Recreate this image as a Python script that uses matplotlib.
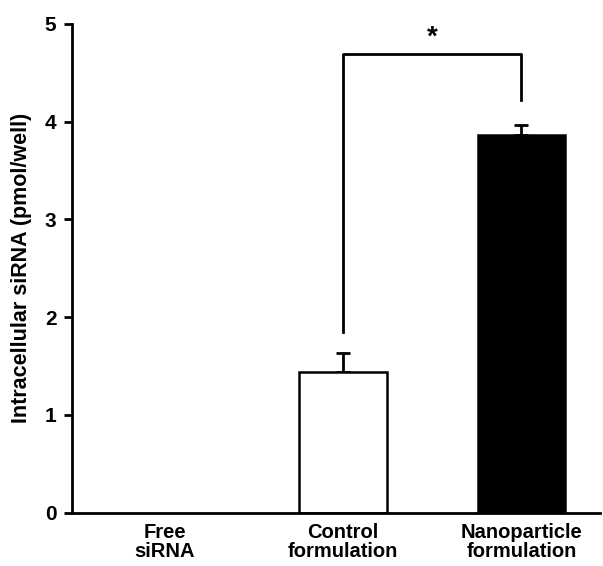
import matplotlib.pyplot as plt
import numpy as np

plt.rcParams['font.family'] = ['Liberation Sans', 'DejaVu Sans']
plt.rcParams['font.weight'] = 'bold'

categories = ["Free\nsiRNA", "Control\nformulation", "Nanoparticle\nformulation"]
values = [0.0, 1.44, 3.86]
errors = [0.0, 0.19, 0.10]
colors = ["white", "white", "black"]

# significance bracket between control and nanoparticle
bracket_left = 1.85
bracket_right = 4.22
bracket_top = 4.69

fig = plt.figure(figsize=(6.03, 5.66), dpi=100)
ax = fig.add_axes([0.119, 0.094, 0.876, 0.864])

x = np.arange(len(categories))
lw = [1.8 if v > 0 else 0 for v in values]
ax.bar(x, values, width=0.49, color=colors, edgecolor="black", linewidth=lw, zorder=2)
ax.errorbar(x[1:], values[1:], yerr=[np.zeros(2), errors[1:]], fmt="none",
            ecolor="black", elinewidth=2, capsize=4.7, capthick=2, zorder=1)

ax.plot([1, 1, 2, 2], [bracket_left, bracket_top, bracket_top, bracket_right],
        color="black", linewidth=2)
ax.text(1.5, 4.86, "*", ha="center", va="center", fontsize=20, fontweight="bold")

ax.set_xlim(-0.52, 2.44)
ax.set_ylim(0, 5)
ax.set_yticks(range(6))
ax.set_xticks(x)
ax.set_xticklabels(categories, fontsize=14.5, fontweight="bold", linespacing=1.05)
ax.tick_params(axis="x", length=0, pad=7)
ax.tick_params(axis="y", length=6, width=2, labelsize=15, pad=5)
for lab in ax.get_yticklabels():
    lab.set_fontweight("bold")
ax.set_ylabel("Intracellular siRNA (pmol/well)", fontsize=15.5, fontweight="bold", labelpad=9)

for side in ["top", "right"]:
    ax.spines[side].set_visible(False)
for side in ["left", "bottom"]:
    ax.spines[side].set_linewidth(2)

fig.savefig("out.png", dpi=100)
